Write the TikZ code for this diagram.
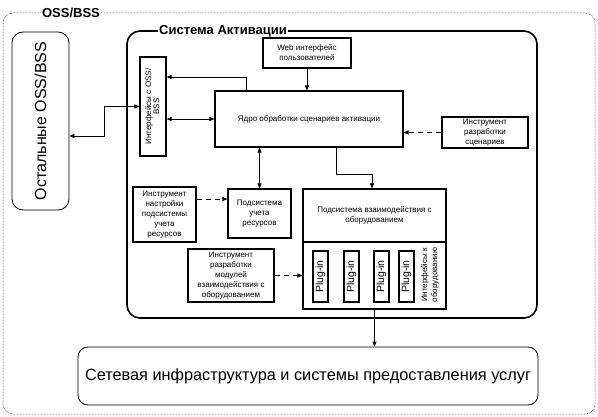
\documentclass[tikz,border=0pt]{standalone}
\usepackage{fontspec}
\setmainfont{Liberation Sans}
\usetikzlibrary{arrows.meta,calc}
\begin{document}
\begin{tikzpicture}[x=1pt,y=-1pt,
  box/.style={draw, line width=1.1pt, inner sep=1pt, align=center, font=\fontsize{8}{10}\selectfont},
  pbox/.style={draw, line width=1.1pt, inner sep=0pt, minimum width=15pt, minimum height=51pt, font=\fontsize{10.5}{12}\selectfont},
  bigbox/.style={draw, line width=0.8pt, rounded corners=11pt, inner sep=0pt},
  titlelbl/.style={fill=white, inner sep=1.5pt, font=\fontsize{13}{15}\selectfont\bfseries},
  arr/.style={line width=0.8pt, -{Triangle[length=5pt,width=4pt]}},
  biarr/.style={line width=0.8pt, {Triangle[length=5pt,width=4pt]}-{Triangle[length=5pt,width=4pt]}},
  darr/.style={line width=0.9pt, dash pattern=on 5pt off 4pt, -{Triangle[length=5pt,width=4pt]}}
]
\useasboundingbox (0,0) rectangle (598,417);

% outer OSS/BSS container
\node[draw, line width=0.5pt, densely dotted, rounded corners=10pt, minimum width=592pt, minimum height=401pt, inner sep=0pt] (outer) at (299,213.5) {};
\node[titlelbl] (osslbl) at (71,13) {OSS/BSS};

% activation system container
\node[draw, line width=1.6pt, rounded corners=13pt, minimum width=410pt, minimum height=287pt, inner sep=0pt] (act) at (332,174.5) {};
\node[titlelbl] (actlbl) at (223,31) {Система Активации};

% left box
\node[bigbox, minimum width=57pt, minimum height=178pt, font=\fontsize{16}{18}\selectfont] (oss) at (40.5,121) {\rotatebox{90}{Остальные OSS/BSS}};

% bottom box
\node[bigbox, rounded corners=10pt, minimum width=460pt, minimum height=58pt, font=\fontsize{16.3}{19}\selectfont] (net) at (308,376) {Сетевая инфраструктура и системы предоставления услуг};

% inner boxes
\node[box, minimum width=26pt, minimum height=99pt] (intf) at (153,106.5) {\rotatebox{90}{\begin{tabular}{@{}c@{}}Интерфейсы с OSS/\\[-2pt]BSS\end{tabular}}};
\node[box, minimum width=88pt, minimum height=30pt] (web) at (307,53) {Web интерфейс\\пользователей};
\node[box, minimum width=188pt, minimum height=56pt] (core) at (309,119) {Ядро обработки сценариев активации};
\node[box, minimum width=86pt, minimum height=31pt] (tscn) at (485,132.5) {Инструмент\\разработки\\сценариев};
\node[box, minimum width=63pt, minimum height=55pt] (tres) at (164.5,214.5) {Инструмент\\настройки\\подсистемы\\учета\\ресурсов};
\node[box, minimum width=63pt, minimum height=49pt] (res) at (259.5,213.5) {Подсистема\\учета\\ресурсов};
\node[box, minimum width=143pt, minimum height=53pt] (hwu) at (374.5,215.5) {Подсистема взаимодействия с\\оборудованием};
\node[box, minimum width=143pt, minimum height=67pt] (hwl) at (374.5,275.5) {};
\node[box, minimum width=86pt, minimum height=53pt] (tmod) at (231,275.5) {Инструмент\\разработки\\модулей\\взаимодействия с\\оборудованием};

% plug-ins
\node[pbox] (p1) at (320.5,276.5) {\rotatebox{90}{Plug-in}};
\node[pbox] (p2) at (351.5,276.5) {\rotatebox{90}{Plug-in}};
\node[pbox] (p3) at (381.5,276.5) {\rotatebox{90}{Plug-in}};
\node[pbox] (p4) at (406.5,276.5) {\rotatebox{90}{Plug-in}};
\node[inner sep=0pt, align=center, rotate=90, font=\fontsize{8}{10}\selectfont] (hwint) at (430,275) {Интерфейсы к\\оборудованию};

% connectors
\draw[arr] ([xshift=-63pt]core.north) |- ([yshift=29.5pt]intf.east);
\draw[biarr] (intf.east |- core.west) -- (core.west);
\draw[biarr] ([yshift=-15pt]oss.east) -- ++(35,0) |- (intf.west);
\draw[arr] (web.south) -- (web.south |- core.north);
\draw[darr] (tscn.west) -- (core.east |- tscn.west);
\draw[arr] ([xshift=27pt]core.south) -- ++(0,27) -| ([xshift=-2.5pt]hwu.north);
\draw[biarr] (res.north |- core.south) -- (res.north);
\draw[darr] ([yshift=15.5pt]tres.east) coordinate (d1) -- (d1 -| res.west);
\draw[darr] (tmod.east) -- (tmod.east -| hwl.west);
\draw[arr] (hwl.south) -- (hwl.south |- net.north);
\end{tikzpicture}
\end{document}
